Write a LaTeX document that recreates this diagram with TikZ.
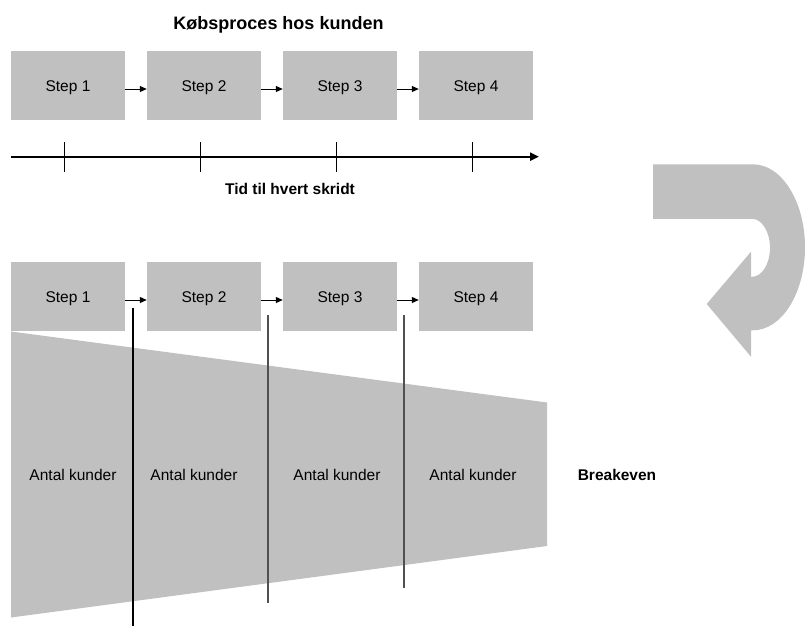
\documentclass[tikz,border=0pt]{standalone}
\usepackage{fontspec}
\setmainfont{Liberation Sans}
\usetikzlibrary{arrows.meta}
\definecolor{boxgray}{RGB}{192,192,192}
\definecolor{linegray}{RGB}{80,80,80}
\begin{document}
\begin{tikzpicture}[x=1pt,y=-1pt,
  stepbox/.style={fill=boxgray, minimum width=114pt, minimum height=69pt,
    inner sep=0pt, text height=11.1pt, text depth=0pt,
    font=\fontsize{15.5}{18}\selectfont},
  flow/.style={-{Triangle[length=7pt,width=6pt]}, line width=1pt},
  timeaxis/.style={-{Triangle[length=9pt,width=8pt]}, line width=2.2pt},
  tick/.style={line width=1pt},
  divider/.style={line width=1.2pt},
  divgray/.style={line width=1.4pt, draw=linegray},
  plain/.style={font=\fontsize{15.5}{18}\selectfont, inner sep=0pt},
  heading/.style={font=\fontsize{18}{21}\selectfont\bfseries, inner sep=0pt,
    text height=13pt, text depth=0pt},
  boldlabel/.style={font=\fontsize{15.5}{18}\selectfont\bfseries, inner sep=0pt}]
\useasboundingbox (0,0) rectangle (805,626);

% ---- upper process row ----
\node[heading] (title) at (278.5,23.3) {Købsproces hos kunden};
\node[stepbox] (a1) at (68,85.5)  {Step 1};
\node[stepbox] (a2) at (204,85.5) {Step 2};
\node[stepbox] (a3) at (340,85.5) {Step 3};
\node[stepbox] (a4) at (476,85.5) {Step 4};
\draw[flow] ([yshift=-3.5pt]a1.east) -- ([yshift=-3.5pt]a2.west);
\draw[flow] ([yshift=-3.5pt]a2.east) -- ([yshift=-3.5pt]a3.west);
\draw[flow] ([yshift=-3.5pt]a3.east) -- ([yshift=-3.5pt]a4.west);

% ---- time axis ----
\coordinate (t0) at (11,156.7);
\coordinate (t1) at (539,156.7);
\draw[timeaxis] (t0) -- (t1);
\foreach \x [count=\i] in {64,200,336,472}{
  \coordinate (k\i a) at (\x,142);
  \coordinate (k\i b) at (\x,172);
  \draw[tick] (k\i a) -- (k\i b);
}
\node[boldlabel] (tid) at (290,189) {Tid til hvert skridt};

% ---- funnel of customers ----
\fill[boxgray] (11,331.5) -- (547,402.5) -- (547,546) -- (11,617.5) -- cycle;

% ---- lower process row ----
\node[stepbox] (b1) at (68,296.5)  {Step 1};
\node[stepbox] (b2) at (204,296.5) {Step 2};
\node[stepbox] (b3) at (340,296.5) {Step 3};
\node[stepbox] (b4) at (476,296.5) {Step 4};
\draw[flow] ([yshift=-3.5pt]b1.east) -- ([yshift=-3.5pt]b2.west);
\draw[flow] ([yshift=-3.5pt]b2.east) -- ([yshift=-3.5pt]b3.west);
\draw[flow] ([yshift=-3.5pt]b3.east) -- ([yshift=-3.5pt]b4.west);

% dividers between the stages
\coordinate (d1a) at (133,308);   \coordinate (d1b) at (133,626);
\coordinate (d2a) at (268,315);   \coordinate (d2b) at (268,603);
\coordinate (d3a) at (404,315);   \coordinate (d3b) at (404,588);
\draw[divider] (d1a) -- (d1b);
\draw[divgray] (d2a) -- (d2b);
\draw[divgray] (d3a) -- (d3b);

\node[plain] (n1) at (73,474.5)  {Antal kunder};
\node[plain] (n2) at (194,474.5) {Antal kunder};
\node[plain] (n3) at (337,474.5) {Antal kunder};
\node[plain] (n4) at (473,474.5) {Antal kunder};
\node[boldlabel] (be) at (617,474.5) {Breakeven};

% ---- curved return arrow ----
\fill[boxgray] (653,164.3) -- (753,164.3)
  .. controls (781.7,164.3) and (805,201.5) .. (805,247.3)
  .. controls (805,293.1) and (781.7,330.3) .. (753,330.3)
  -- (751,330.3) -- (751,356.7) -- (706.7,304) -- (751,251.7)
  -- (751,276.8) -- (752,276.8)
  .. controls (761.9,276.8) and (770,263.8) .. (770,247.8)
  .. controls (770,231.8) and (761.9,218.8) .. (752,218.8)
  -- (653,218.8) -- cycle;
\end{tikzpicture}
\end{document}
